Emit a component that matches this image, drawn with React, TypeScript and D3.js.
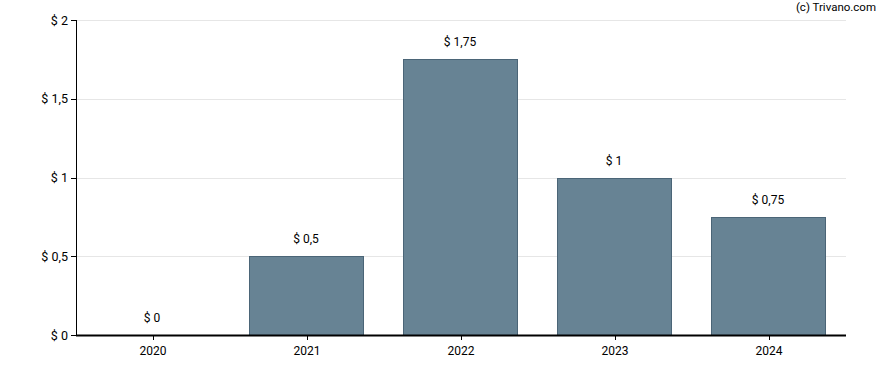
import React from 'react';
import * as d3 from 'd3';

const years = ['2020', '2021', '2022', '2023', '2024'];
const dividends = [0, 0.5, 1.75, 1, 0.75];
const yTicks = [0, 0.5, 1, 1.5, 2];

const W = 888;
const H = 370;
const margin = { top: 20, right: 42, bottom: 35, left: 76 };

const fmt = (v: number) => '$ ' + String(v).replace('.', ',');

export default function App() {
  const x = d3
    .scaleBand<string>()
    .domain(years)
    .range([margin.left, W - margin.right])
    .paddingInner(0.26)
    .paddingOuter(0.13);
  const y = d3.scaleLinear().domain([0, 2]).range([H - margin.bottom, margin.top]);

  const font = 'Roboto, "DejaVu Sans", sans-serif';
  const x0 = margin.left;
  const x1 = W - margin.right;
  const yBase = y(0);

  return (
    <svg
      width={W}
      height={H}
      style={{ position: 'absolute', left: 0, top: 0, fontFamily: font }}
    >
      <rect width={W} height={H} fill="#fff" />
      {/* grid */}
      {yTicks.map((t) => (
        <line
          key={'g' + t}
          x1={x0}
          x2={x1}
          y1={Math.round(y(t)) + 0.5}
          y2={Math.round(y(t)) + 0.5}
          stroke="#e6e6e6"
        />
      ))}
      {/* bars */}
      {years.map((yr, i) => {
        const v = dividends[i];
        const top = y(v);
        const bx = Math.round(x(yr)!) - 0.5;
        return (
          <g key={yr}>
            {v > 0 && (
              <rect
                x={bx}
                y={Math.round(top) + 0.5}
                width={Math.round(x.bandwidth())}
                height={yBase - Math.round(top)}
                fill="#678394"
                stroke="#4b6577"
                strokeWidth={1}
              />
            )}
            <text
              x={x(yr)! + x.bandwidth() / 2 - 1}
              y={top - 13}
              textAnchor="middle"
              fontSize={12}
              fill="#000"
            >
              {fmt(v)}
            </text>
            <line
              x1={Math.round(x(yr)! + x.bandwidth() / 2) + 0.5}
              x2={Math.round(x(yr)! + x.bandwidth() / 2) + 0.5}
              y1={yBase}
              y2={yBase + 5}
              stroke="#000"
            />
            <text
              x={x(yr)! + x.bandwidth() / 2}
              y={yBase + 20}
              textAnchor="middle"
              fontSize={12}
              fill="#000"
            >
              {yr}
            </text>
          </g>
        );
      })}
      {/* y axis */}
      <line x1={x0 + 0.5} x2={x0 + 0.5} y1={margin.top} y2={yBase + 1} stroke="#000" />
      {yTicks.map((t) => (
        <g key={'t' + t}>
          <line
            x1={x0 - 5}
            x2={x0}
            y1={Math.round(y(t)) + 0.5}
            y2={Math.round(y(t)) + 0.5}
            stroke="#000"
          />
          <text x={x0 - 8} y={y(t) + 4.5} textAnchor="end" fontSize={12.5} fill="#000">
            {fmt(t)}
          </text>
        </g>
      ))}
      {/* x axis */}
      <line x1={x0} x2={x1} y1={Math.round(yBase) + 0.5} y2={Math.round(yBase) + 0.5} stroke="#000" strokeWidth={2} />
      <text x={876} y={11} textAnchor="end" fontSize={11.5} fill="#000">
        (c) Trivano.com
      </text>
    </svg>
  );
}
